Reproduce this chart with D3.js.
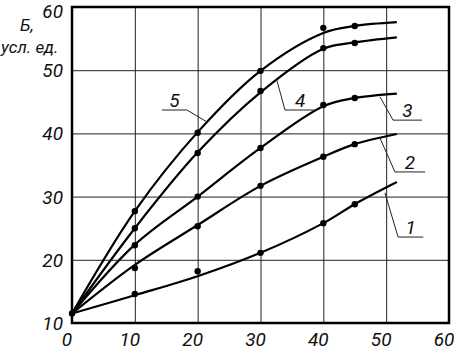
<!doctype html>
<html lang="ru">
<head>
  <meta charset="utf-8">
  <style>
    body { margin: 0; background: #fff; }
    .lbl { font: italic 19px Roboto, "DejaVu Sans Condensed", sans-serif; fill: #111; }
    .ttl { font: italic 17px Roboto, "DejaVu Sans Condensed", sans-serif; fill: #111; }
    .grid line { stroke: #222; stroke-width: 1px; }
    .curve { fill: none; stroke: #000; stroke-width: 2.2px; }
    .leader { fill: none; stroke: #222; stroke-width: 1px; }
  </style>
  <script src="https://d3js.org/d3.v7.min.js"></script>
</head>
<body>
<script>
  // tick values
  const xTicks = [0, 10, 20, 30, 40, 50, 60];
  const yTicks = [10, 20, 30, 40, 50, 60];

  // smooth curve nodes
  const curveX = [0, 10, 20, 30, 40, 45, 51.7];
  const curve1 = [11.5, 14.4, 17.4, 21.1, 25.8, 28.8, 32.3];
  const curve2 = [11.5, 19.2, 25.5, 31.7, 36.3, 38.3, 39.9];
  const curve3 = [11.5, 22.4, 30.0, 37.7, 44.3, 45.6, 46.3];
  const curve4 = [11.5, 25.0, 37.0, 46.5, 53.4, 54.4, 55.2];
  const curve5 = [11.5, 27.7, 40.2, 49.9, 55.9, 57.0, 57.6];

  // measured points
  const dotX = [10, 20, 30, 40, 45];
  const dots1 = [14.6, 18.2, 21.1, 25.8, 28.8];
  const dots2 = [18.7, 25.3, 31.7, 36.3, 38.3];
  const dots3 = [22.3, 30.0, 37.7, 44.5, 45.6];
  const dots4 = [25.0, 36.9, 46.7, 53.5, 54.3];
  const dots5 = [27.7, 40.1, 49.9, 56.7, 57.0];
  const origin = [0, 11.5];

  // curve labels: point on curve, elbow, end of underline (data units)
  const labelNames = ["1", "2", "3", "4", "5"];
  const labelCurvePt = [[49.8, 30.6], [49.0, 39.3], [49.0, 45.8], [32.6, 48.4], [21.5, 41.8]];
  const labelElbow = [[51.9, 23.6], [51.4, 33.9], [51.1, 42.1], [33.9, 43.7], [18.3, 43.7]];
  const labelEnd = [[55.9, 23.6], [56.2, 33.9], [55.7, 42.1], [38.7, 43.7], [14.3, 43.7]];

  const W = 454, H = 352;
  const margin = { top: 7, right: 5, bottom: 29, left: 72 };
  const width = W - margin.left - margin.right;
  const height = H - margin.top - margin.bottom;

  const svg = d3.select("body").append("svg")
    .attr("width", W).attr("height", H);
  const g = svg.append("g")
    .attr("transform", `translate(${margin.left},${margin.top})`);

  const x = d3.scaleLinear().domain([0, 60]).range([0, width]);
  const y = d3.scaleLinear().domain([10, 60]).range([height, 0]);

  // grid
  g.append("g").attr("class", "grid")
    .call(d3.axisBottom(x).tickValues(xTicks).tickSize(height).tickFormat(""))
    .call(s => s.select(".domain").remove());
  g.append("g").attr("class", "grid")
    .call(d3.axisLeft(y).tickValues(yTicks).tickSize(-width).tickFormat(""))
    .call(s => s.select(".domain").remove());

  // frame
  g.append("rect")
    .attr("x", 0).attr("y", 0).attr("width", width).attr("height", height)
    .attr("fill", "none").attr("stroke", "#000").attr("stroke-width", 2.5);

  // tick labels
  g.selectAll(".xt").data(xTicks).enter().append("text")
    .attr("class", "lbl")
    .attr("x", d => x(d) - 5).attr("y", height + 23)
    .attr("text-anchor", "middle")
    .text(d => d);
  g.selectAll(".yt").data(yTicks).enter().append("text")
    .attr("class", "lbl")
    .attr("x", -9).attr("y", d => Math.max(y(d) + 7, 11))
    .attr("text-anchor", "end")
    .text(d => d);

  // axis title
  svg.append("text").attr("class", "ttl").attr("x", 20).attr("y", 31).text("Б,");
  svg.append("text").attr("class", "ttl").attr("x", 1).attr("y", 53).text("усл. ед.");

  // curves
  const line = d3.line()
    .x(d => x(d[0])).y(d => y(d[1]))
    .curve(d3.curveCatmullRom.alpha(0.5));
  [curve1, curve2, curve3, curve4, curve5].forEach(c => {
    g.append("path")
      .datum(curveX.map((v, i) => [v, c[i]]))
      .attr("class", "curve")
      .attr("d", line);
  });

  // dots
  const pts = [origin];
  [dots1, dots2, dots3, dots4, dots5].forEach(ds => {
    ds.forEach((v, i) => pts.push([dotX[i], v]));
  });
  g.selectAll(".dot").data(pts).enter().append("circle")
    .attr("cx", d => x(d[0])).attr("cy", d => y(d[1]))
    .attr("r", 3.2).attr("fill", "#000");

  // curve labels with leaders
  labelNames.forEach((n, i) => {
    const pts = [labelCurvePt[i], labelElbow[i], labelEnd[i]];
    g.append("path")
      .attr("class", "leader")
      .attr("d", d3.line().x(d => x(d[0])).y(d => y(d[1]))(pts));
    const cx = (x(labelElbow[i][0]) + x(labelEnd[i][0])) / 2;
    g.append("text")
      .attr("class", "lbl")
      .attr("x", cx).attr("y", y(labelEnd[i][1]) - 3)
      .attr("text-anchor", "middle")
      .text(n);
  });
</script>
</body>
</html>
